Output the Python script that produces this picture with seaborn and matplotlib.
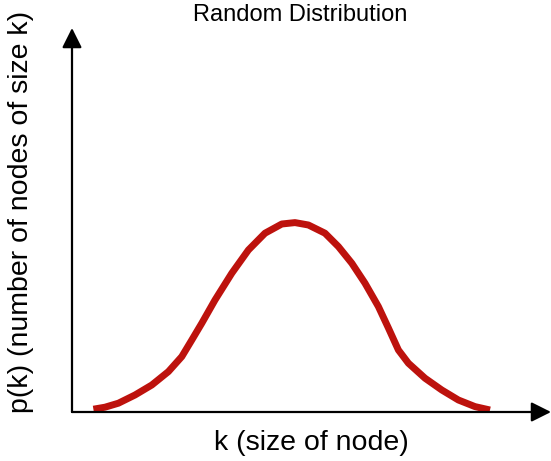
import matplotlib
matplotlib.use("Agg")
import matplotlib.pyplot as plt
import seaborn as sns

# degree k vs. probability p(k)
k_values = [1.07, 1.65, 2.32, 3.15, 3.99, 4.82, 5.49, 5.99, 6.49, 7.15, 7.99, 8.82,
            9.65, 10.49, 11.15, 11.82, 12.65, 13.32, 13.99, 14.65, 15.32, 15.82,
            16.32, 16.82, 17.65, 18.49, 19.32, 20.15, 20.9]
p_values = [0.014, 0.024, 0.044, 0.085, 0.135, 0.202, 0.277, 0.36, 0.444, 0.56, 0.694, 0.81,
            0.894, 0.94, 0.947, 0.935, 0.894, 0.827, 0.744, 0.644, 0.527, 0.42,
            0.31, 0.244, 0.169, 0.11, 0.06, 0.027, 0.01]

title = "Random Distribution"
x_label = "k (size of node)"
y_label = "p(k) (number of nodes of size k)"


def plot_distribution():
    sns.set_style("white")
    plt.rcParams["font.family"] = ["Liberation Sans", "DejaVu Sans"]
    plt.rcParams["text.color"] = "black"

    fig = plt.figure(figsize=(5.51, 4.61), dpi=100)
    ax = fig.add_axes([72 / 551, 49 / 461, 479 / 551, 384 / 461])

    sns.lineplot(x=k_values, y=p_values, ax=ax, color="#bd120d", linewidth=5,
                 solid_capstyle="butt", solid_joinstyle="round")
    ax.set_xlim(0, 23.95)
    ax.set_ylim(0, 1.92)
    ax.set_xticks([])
    ax.set_yticks([])
    for s in ax.spines.values():
        s.set_visible(False)

    # axis arrows
    arrow = dict(arrowstyle="-|>,head_length=1.2,head_width=0.6", lw=1.6,
                 color="black", mutation_scale=10, shrinkA=0, shrinkB=0)
    ax.annotate("", xy=(0, 1), xytext=(0, 0), xycoords="axes fraction",
                arrowprops=arrow, annotation_clip=False)
    ax.annotate("", xy=(1, 0), xytext=(0, 0), xycoords="axes fraction",
                arrowprops=arrow, annotation_clip=False)

    # labels
    fig.text(311 / 551, 1 - 443 / 461, x_label, ha="center", va="center", fontsize=20.5)
    fig.text(21 / 551, 1 - 212 / 461, y_label, ha="center", va="center",
             rotation=90, fontsize=20.5)
    fig.text(300 / 551, 1 - 21 / 461, title, ha="center", va="baseline", fontsize=17)

    fig.savefig("out.png", dpi=100, facecolor="white")


if __name__ == "__main__":
    plot_distribution()
